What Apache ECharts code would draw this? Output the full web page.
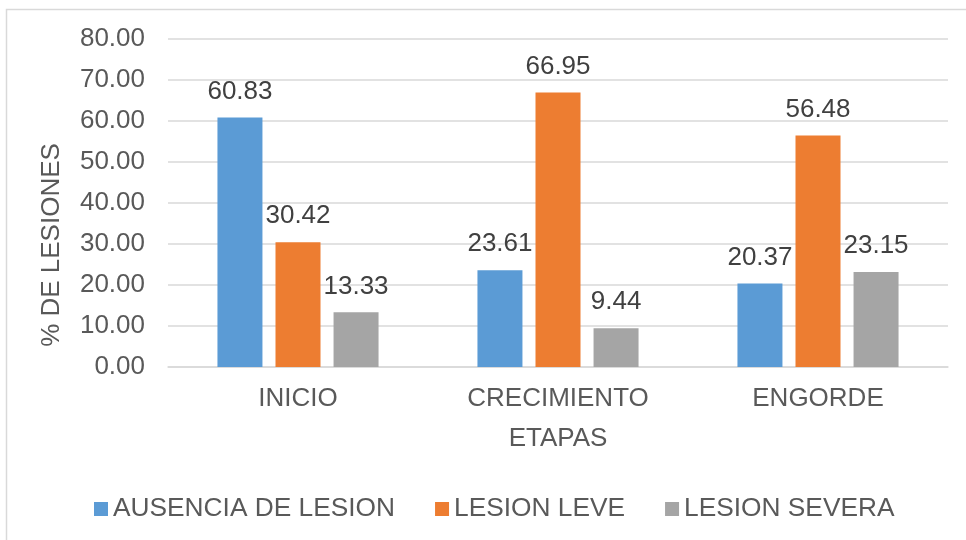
<!DOCTYPE html>
<html><head><meta charset="utf-8">
<script src="https://cdn.jsdelivr.net/npm/echarts@6/dist/echarts.min.js"></script>
<style>html,body{margin:0;padding:0;background:#fff}#c{width:966px;height:540px}</style>
</head><body><div id="c"></div>
<script>
const categories = ['INICIO', 'CRECIMIENTO', 'ENGORDE'];
const seriesNames = ['AUSENCIA DE LESION', 'LESION LEVE', 'LESION SEVERA'];
const ausencia = [60.83, 23.61, 20.37];
const leve = [30.42, 66.95, 56.48];
const severa = [13.33, 9.44, 23.15];
const colors = ['#5B9BD5', '#ED7D31', '#A5A5A5'];
const font = 'Liberation Sans, Arial, sans-serif';
const chart = echarts.init(document.getElementById('c'));
const values = [ausencia, leve, severa];
chart.setOption({
  animation: false,
  textStyle: { fontFamily: font },
  graphic: [
    { type: 'rect', shape: { x: 6.5, y: 9.5, width: 1000, height: 600 }, style: { fill: 'none', stroke: '#D9D9D9', lineWidth: 1.5 }, z: -1 },
    { type: 'text', x: 52, y: 245, rotation: Math.PI / 2, style: { text: '% DE LESIONES', fontSize: 26, fontFamily: font, fill: '#595959', align: 'center', verticalAlign: 'middle' } }
  ],
  grid: { left: 168, right: 18, top: 39, bottom: 173, containLabel: false },
  legend: {
    left: 94, top: 496, padding: 0, itemWidth: 14, itemHeight: 14, itemGap: 40,
    icon: 'rect',
    textStyle: { fontSize: 26.3, color: '#595959', fontFamily: font },
    data: seriesNames
  },
  xAxis: {
    type: 'category', data: categories,
    name: 'ETAPAS', nameLocation: 'middle', nameGap: 59,
    nameTextStyle: { fontSize: 26, color: '#595959', fontFamily: font },
    axisLine: { lineStyle: { color: '#D9D9D9', width: 1.5 } },
    axisTick: { show: false },
    axisLabel: { fontSize: 26, color: '#595959', margin: 19, fontFamily: font }
  },
  yAxis: {
    type: 'value', min: 0, max: 80, interval: 10,
    axisLine: { show: false }, axisTick: { show: false },
    splitLine: { lineStyle: { color: '#D9D9D9', width: 1.5 } },
    axisLabel: { fontSize: 26, color: '#595959', margin: 23, fontFamily: font, formatter: v => v.toFixed(2) }
  },
  series: seriesNames.map((n, i) => ({
    name: n, type: 'bar', data: values[i], barWidth: 45, barGap: '29%',
    itemStyle: { color: colors[i] },
    label: { show: true, position: 'top', distance: 13, fontSize: 26, color: '#404040', fontFamily: font, formatter: p => p.value.toFixed(2) }
  }))
});
</script></body></html>
